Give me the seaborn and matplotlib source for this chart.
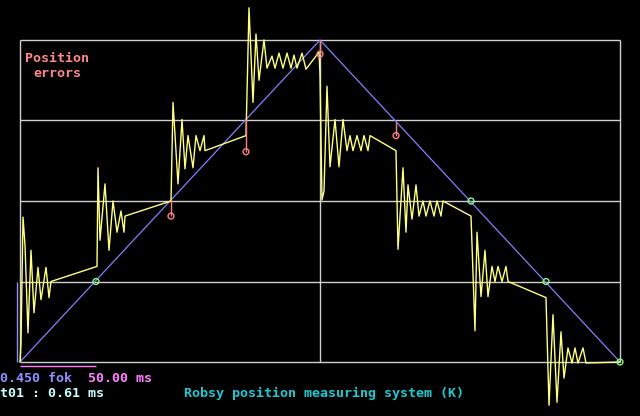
import numpy as np
import pandas as pd
import seaborn as sns
import matplotlib.pyplot as plt

# time axis in samples (600 samples across the frame), position in counts (80 per division)
ramp_t = [0, 300, 600]
ramp_pos = [0, 320, 0]

trace_t = [0, 1, 2, 3, 5, 8, 11, 14, 18, 21, 26, 29, 31,
           77, 78, 80, 85, 89, 93, 97, 101, 104, 105,
           151, 153, 158, 162, 165, 168, 173, 176, 180, 184, 185,
           226, 229, 233, 236, 239, 244, 247, 252, 255, 259, 263, 267, 271, 274, 277, 282, 286,
           299, 300, 302, 304, 307, 310, 315, 319, 323, 327, 330, 333, 337, 341, 344, 348, 350,
           376, 378, 383, 386, 388, 392, 396, 399, 403, 406, 410, 414, 417, 421, 423,
           451, 455, 457, 461, 465, 468, 472, 475, 478, 482, 486, 488,
           526, 529, 533, 537, 541, 544, 548, 552, 555, 558, 563, 566, 600]
trace_pos = [0, 19, 82, 144, 116, 29, 111, 49, 94, 62, 94, 64, 80,
             95, 193, 121, 177, 111, 160, 129, 150, 129, 145,
             160, 258, 177, 241, 192, 225, 193, 225, 210, 225, 210,
             225, 352, 258, 326, 280, 320, 292, 304, 292, 307, 292, 307, 292, 305, 292, 307, 291,
             308, 285, 161, 170, 274, 194, 241, 194, 241, 210, 225, 210, 225, 210, 225, 210, 225,
             210, 112, 193, 129, 176, 142, 176, 145, 160, 145, 160, 145, 160, 145, 160,
             145, 31, 129, 65, 111, 65, 95, 80, 95, 80, 95, 80,
             64, -43, 47, -40, 30, -16, 14, -1, 14, -1, 14, -1, 0]

# position errors (stems from ramp to measured point)
err_t = [151, 226, 300, 376]
err_ramp = [161, 241, 320, 239]
err_pos = [145, 209, 306, 225]

# matched points
ok_t = [76, 451, 526, 600]
ok_pos = [80, 160, 80, 0]

grid_pos = [0, 80, 160, 240, 320]
grid_t = [0, 300, 600]

sns.set_style("dark")
plt.rcParams['font.family'] = ['DejaVu Sans Mono', 'DejaVu Sans']

fig = plt.figure(figsize=(6.4, 4.16), dpi=100, facecolor='black')
ax = fig.add_axes([0, 0, 1, 1])
ax.set_facecolor('black')
ax.set_xlim(-20, 620)
ax.set_ylim(-54 * 320 / 322, 362 * 320 / 322)
ax.axis('off')

grey = '#d0d0d0'
ax.hlines(grid_pos, 0, 600, color=grey, lw=1.0, zorder=1)
ax.vlines(grid_t, 0, 320, color=grey, lw=1.0, zorder=1)

# scale marks at lower left
ax.vlines(-3, 0, 80, color='#9090ff', lw=1.0)
ax.hlines(-4, 0, 76, color='#ff80ff', lw=1.0)

df_ramp = pd.DataFrame({'t': ramp_t, 'pos': ramp_pos})
df_trace = pd.DataFrame({'t': trace_t, 'pos': trace_pos})
sns.lineplot(data=df_ramp, x='t', y='pos', color='#8080ff', lw=0.9, sort=False,
             estimator=None, ax=ax, zorder=2)
sns.lineplot(data=df_trace, x='t', y='pos', color='#ffff80', lw=1.0, sort=False,
             estimator=None, ax=ax, zorder=3)

ax.vlines(err_t, err_pos, err_ramp, color='#ff8080', lw=1.0, zorder=4)
sns.scatterplot(x=err_t, y=err_pos, marker='o', s=18, facecolor='none',
                edgecolor='#ff8080', linewidth=1.0, ax=ax, zorder=5)
sns.scatterplot(x=ok_t, y=ok_pos, marker='o', s=18, facecolor='none',
                edgecolor='#80ff80', linewidth=1.0, ax=ax, zorder=5)
ax.set_xlabel('')
ax.set_ylabel('')


def px_text(x, y, s, color):
    fig.text(x / 640, 1 - y / 416, s, color=color, fontsize=9.6, fontweight='bold',
             va='baseline', ha='left')


px_text(25, 62, 'Position', '#ff8888')
px_text(33, 77, 'errors', '#ff8888')
px_text(0, 382, '0.450 fok', '#9090ff')
px_text(88, 382, '50.00 ms', '#ff80ff')
px_text(0, 397, 't01 : 0.61 ms', '#c8ffff')
px_text(184, 397, 'Robsy position measuring system (K)', '#20c8d0')

fig.savefig('out.png', dpi=100, facecolor='black')
